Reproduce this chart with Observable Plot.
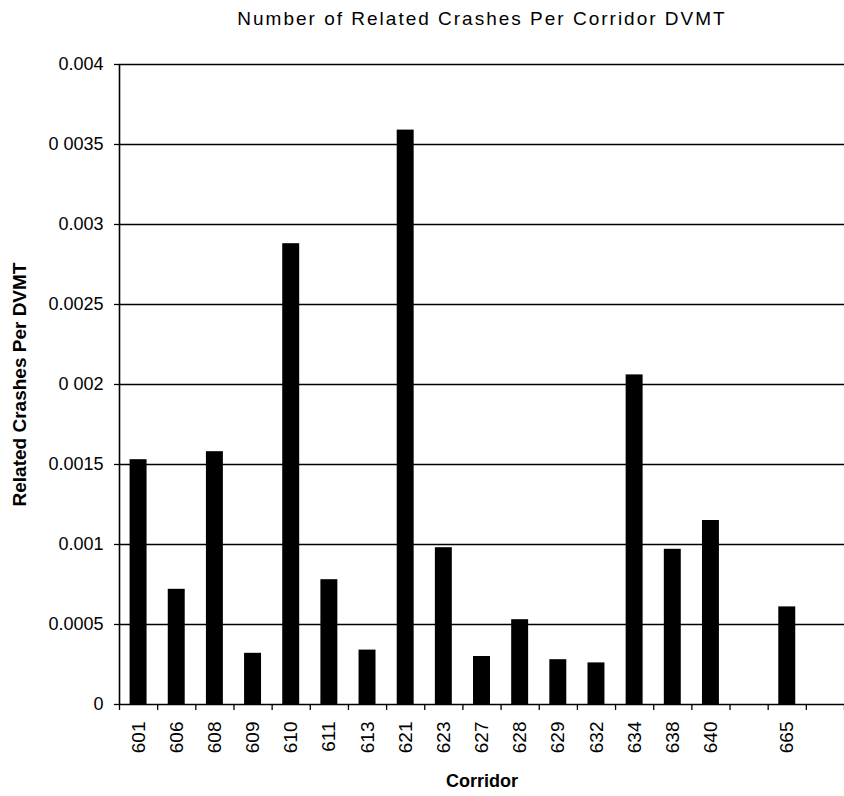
<!DOCTYPE html>
<html>
<head>
<meta charset="utf-8">
<script src="https://cdn.jsdelivr.net/npm/d3@7"></script>
<script src="https://cdn.jsdelivr.net/npm/@observablehq/plot@0.6"></script>
<style>
  html, body { margin: 0; padding: 0; background: #fff; }
  .ttl text, text.ttl, g.ttl text { letter-spacing: 2px; }
</style>
</head>
<body>
<div id="chart"></div>
<script>
const title = "Number of Related Crashes Per Corridor DVMT";
const xLabel = "Corridor";
const yLabel = "Related Crashes Per DVMT";
const categories = ["601","606","608","609","610","611","613","621","623","627","628","629","632","634","638","640","","665",""];
const values = [0.00153,0.00072,0.00158,0.00032,0.00288,0.00078,0.00034,0.00359,0.00098,0.00030,0.00053,0.00028,0.00026,0.00206,0.00097,0.00115,null,0.00061,null];
const yTicks = [0,0.0005,0.001,0.0015,0.002,0.0025,0.003,0.0035,0.004];
const yTickLabels = ["0","0.0005","0.001","0.0015","0 002","0.0025","0.003","0 0035","0.004"];

const data = categories.map((c, i) => ({i, corridor: c, value: values[i]}));
const bars = data.filter(d => d.value != null);
const labeled = data.filter(d => d.corridor !== "");

const font = "'Liberation Sans', Arial, sans-serif";

const chart = Plot.plot({
  width: 844,
  height: 796,
  marginTop: 64,
  marginBottom: 92,
  marginLeft: 119,
  marginRight: 0,
  style: {fontFamily: font, background: "#fff", color: "#000"},
  x: {domain: [0, categories.length], axis: null},
  y: {domain: [0, 0.004], axis: null},
  marks: [
    Plot.ruleY(yTicks, {stroke: "#000", strokeWidth: 1.3}),
    Plot.axisY({ticks: yTicks, tickFormat: d => yTickLabels[yTicks.indexOf(d)], tickSize: 5, tickPadding: 11, fontSize: 18, stroke: "#000", strokeWidth: 1.3, label: null}),
    Plot.rectY(bars, {x1: "i", x2: d => d.i + 1, y: "value", insetLeft: 10.6, insetRight: 10.6, fill: "#000"}),
    Plot.ruleX([0], {stroke: "#000", strokeWidth: 1.6}),
    Plot.axisX({ticks: d3.range(0, categories.length + 1), tickSize: 6, tickFormat: () => "", stroke: "#000", strokeWidth: 1.3, label: null}),
    Plot.text(labeled, {x: d => d.i + 0.5, y: 0, text: "corridor", rotate: -90, textAnchor: "end", lineAnchor: "middle", dy: 17, fontSize: 19, fill: "#000"}),
    Plot.text([yLabel], {frameAnchor: "left", dx: -100, rotate: -90, textAnchor: "middle", lineAnchor: "middle", fontSize: 19, fontWeight: "bold", fill: "#000"}),
    Plot.text([xLabel], {frameAnchor: "bottom", dy: 77, textAnchor: "middle", lineAnchor: "middle", fontSize: 18, fontWeight: "bold", fill: "#000"}),
    Plot.text([title], {frameAnchor: "top", dy: -46, textAnchor: "middle", lineAnchor: "middle", fontSize: 19, fill: "#000", className: "ttl"})
  ]
});
document.getElementById("chart").appendChild(chart);
</script>
</body>
</html>
